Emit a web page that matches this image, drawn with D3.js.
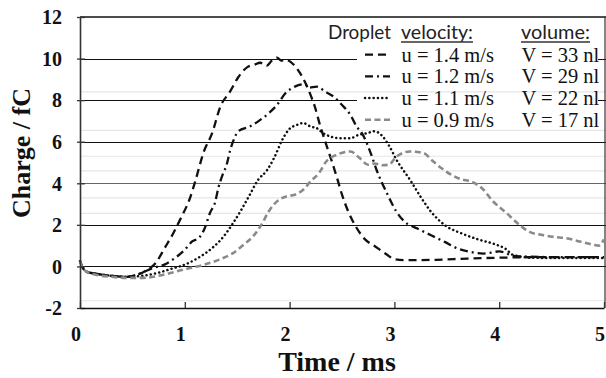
<!DOCTYPE html>
<html>
<head>
<meta charset="utf-8">
<script src="https://cdn.jsdelivr.net/npm/d3@7"></script>
<style>
  html, body { margin: 0; padding: 0; background: #fff; }
  svg { display: block; }
</style>
</head>
<body>
<svg id="chart" width="606" height="378"></svg>
<script>
// ---------- data ----------
const xTicks = [0, 1, 2, 3, 4, 5];
const yTicks = [-2, 0, 2, 4, 6, 8, 10, 12];
const majorGrid = [0, 2, 4, 6, 8, 10];
const minorGrid = [8.4, 6.55, 5.3, 4.6, 3.3, 2.55, -1.65];

const s1Time = [0, 0.02, 0.06, 0.15, 0.3, 0.45, 0.55, 0.63, 0.72, 0.81, 0.89, 0.96, 1.05, 1.1, 1.18, 1.26, 1.34, 1.43, 1.51, 1.6, 1.66, 1.72, 1.78, 1.83, 1.88, 1.92, 1.96, 2.04, 2.1, 2.2, 2.24, 2.29, 2.34, 2.4, 2.45, 2.5, 2.56, 2.64, 2.72, 2.82, 2.92, 3.0, 3.1, 3.4, 3.7, 4.0, 4.5, 5.0];
const s1Charge = [0.25, 0.0, -0.25, -0.35, -0.45, -0.5, -0.4, -0.2, 0.15, 0.9, 1.6, 2.3, 3.3, 4.1, 5.5, 6.4, 7.7, 8.4, 9.1, 9.6, 9.7, 9.8, 9.65, 9.9, 10.05, 9.9, 9.95, 9.7, 9.3, 8.25, 7.7, 6.8, 6.0, 5.1, 4.3, 3.45, 2.64, 1.85, 1.3, 0.95, 0.6, 0.35, 0.3, 0.32, 0.38, 0.42, 0.45, 0.45];

const s2Time = [0, 0.02, 0.06, 0.15, 0.3, 0.45, 0.59, 0.7, 0.81, 0.91, 1.0, 1.07, 1.14, 1.19, 1.24, 1.29, 1.32, 1.36, 1.40, 1.43, 1.46, 1.51, 1.62, 1.72, 1.8, 1.88, 1.96, 2.05, 2.15, 2.18, 2.26, 2.34, 2.42, 2.5, 2.58, 2.64, 2.69, 2.78, 2.83, 2.93, 3.02, 3.1, 3.22, 3.35, 3.48, 3.61, 3.72, 3.85, 4.0, 4.15, 4.5, 5.0];
const s2Charge = [0.25, 0.0, -0.25, -0.35, -0.45, -0.5, -0.3, -0.07, 0.1, 0.42, 0.8, 1.2, 1.4, 1.84, 2.57, 3.1, 3.77, 4.4, 4.9, 5.53, 6.0, 6.5, 6.73, 7.05, 7.37, 7.77, 8.33, 8.65, 8.77, 8.6, 8.65, 8.41, 8.17, 7.77, 7.29, 6.73, 6.41, 5.37, 4.64, 3.51, 2.63, 2.14, 1.82, 1.5, 1.18, 0.85, 0.7, 0.62, 0.72, 0.5, 0.45, 0.45];

const s3Time = [0, 0.02, 0.06, 0.15, 0.3, 0.45, 0.6, 0.75, 0.88, 0.98, 1.05, 1.15, 1.26, 1.37, 1.46, 1.54, 1.62, 1.7, 1.78, 1.85, 1.93, 1.99, 2.07, 2.13, 2.2, 2.26, 2.32, 2.39, 2.48, 2.58, 2.66, 2.74, 2.81, 2.88, 2.95, 3.02, 3.15, 3.25, 3.35, 3.48, 3.64, 3.8, 3.97, 4.06, 4.13, 4.3, 4.6, 5.0];
const s3Charge = [0.25, 0.0, -0.25, -0.35, -0.45, -0.5, -0.45, -0.3, -0.1, 0.05, 0.2, 0.48, 0.88, 1.44, 2.08, 2.73, 3.45, 4.17, 4.6, 5.2, 6.09, 6.57, 6.81, 6.9, 6.73, 6.65, 6.41, 6.25, 6.17, 6.17, 6.33, 6.41, 6.5, 6.3, 5.8, 5.13, 4.16, 3.35, 2.63, 1.99, 1.59, 1.3, 1.05, 0.85, 0.56, 0.42, 0.4, 0.4];

const s4Time = [0, 0.02, 0.06, 0.15, 0.3, 0.45, 0.6, 0.75, 0.86, 0.95, 1.05, 1.18, 1.34, 1.46, 1.56, 1.65, 1.73, 1.8, 1.88, 1.97, 2.05, 2.13, 2.2, 2.28, 2.35, 2.45, 2.58, 2.67, 2.75, 2.81, 2.89, 2.95, 3.02, 3.15, 3.28, 3.36, 3.45, 3.61, 3.77, 3.85, 3.93, 4.07, 4.17, 4.29, 4.4, 4.52, 4.64, 4.77, 4.9, 4.95, 5.0];
const s4Charge = [0.25, 0.0, -0.25, -0.4, -0.5, -0.55, -0.55, -0.45, -0.32, -0.2, -0.08, 0.08, 0.35, 0.64, 1.04, 1.44, 2.0, 2.64, 3.13, 3.37, 3.45, 3.69, 4.09, 4.49, 5.05, 5.37, 5.53, 5.21, 4.89, 4.95, 4.87, 4.9, 5.29, 5.53, 5.45, 5.1, 4.72, 4.24, 4.0, 3.69, 3.19, 2.57, 2.1, 1.66, 1.52, 1.42, 1.36, 1.2, 1.04, 1.0, 1.3];

const velocityLabels = ["u = 1.4 m/s", "u = 1.2 m/s", "u = 1.1 m/s", "u = 0.9 m/s"];
const volumeLabels = ["V = 33 nl", "V = 29 nl", "V = 22 nl", "V = 17 nl"];
const headerLabels = ["Droplet", "velocity:", "volume:"];

// ---------- styles ----------
const seriesStyles = [
  { color: "#111", width: 2.3, dash: "8,5", cap: "butt" },
  { color: "#111", width: 2.3, dash: "8,4,2,4", cap: "butt" },
  { color: "#111", width: 2.5, dash: "0.1,4.2", cap: "round" },
  { color: "#8a8a8a", width: 2.6, dash: "6,3.5", cap: "butt" }
];

const series = [
  { t: s1Time, v: s1Charge },
  { t: s2Time, v: s2Charge },
  { t: s3Time, v: s3Charge },
  { t: s4Time, v: s4Charge }
];

// ---------- layout ----------
const svg = d3.select("#chart");
const pLeft = 80, pRight = 604, pTop = 17, pBottom = 308;
const x = d3.scaleLinear().domain([0, 5]).range([pLeft, pRight]);
const y = d3.scaleLinear().domain([-2, 12]).range([pBottom, pTop]);
const serif = "'Liberation Serif', 'Times New Roman', serif";

// minor grid
svg.append("g").selectAll("line").data(minorGrid).join("line")
  .attr("x1", pLeft).attr("x2", 606)
  .attr("y1", d => y(d)).attr("y2", d => y(d))
  .attr("stroke", "#e6e6e6").attr("stroke-width", 1.2);

// major grid
svg.append("g").selectAll("line").data(majorGrid).join("line")
  .attr("x1", pLeft).attr("x2", 606)
  .attr("y1", d => Math.round(y(d)) + 0.5).attr("y2", d => Math.round(y(d)) + 0.5)
  .attr("stroke", d => d === 4 ? "#666" : "#111").attr("stroke-width", 1.2);

// frame: top & right
svg.append("line").attr("x1", pLeft).attr("x2", 606).attr("y1", pTop).attr("y2", pTop)
  .attr("stroke", "#111").attr("stroke-width", 1.5);
svg.append("line").attr("x1", 605).attr("x2", 605).attr("y1", pTop).attr("y2", pBottom)
  .attr("stroke", "#333").attr("stroke-width", 1.2);

// series
const line = d3.line().x(d => x(d[0])).y(d => y(d[1])).curve(d3.curveMonotoneX);
series.forEach((s, i) => {
  const pts = s.t.map((t, k) => [t, s.v[k]]);
  const st = seriesStyles[i];
  svg.append("path").datum(pts)
    .attr("d", line)
    .attr("fill", "none")
    .attr("stroke", st.color)
    .attr("stroke-width", st.width)
    .attr("stroke-dasharray", st.dash)
    .attr("stroke-linecap", st.cap);
});

// legend box
svg.append("rect").attr("x", 357).attr("y", 19).attr("width", 241).attr("height", 105)
  .attr("fill", "#fff");
// light grid line crossing the legend
svg.append("line").attr("x1", 357).attr("x2", 598)
  .attr("y1", y(minorGrid[0])).attr("y2", y(minorGrid[0]))
  .attr("stroke", "#e6e6e6").attr("stroke-width", 1.2);

const headerX = [328, 401, 521];
const headerW = [63, 72, 69];
const hdr = svg.append("g");
headerLabels.forEach((h, i) => {
  hdr.append("text").attr("x", headerX[i]).attr("y", 38.5)
    .attr("font-family", "Lato, 'Open Sans', sans-serif")
    .attr("font-size", 20).attr("fill", "#222")
    .attr("textLength", headerW[i]).attr("lengthAdjust", "spacingAndGlyphs")
    .text(h);
  if (i > 0) {
    hdr.append("line").attr("x1", headerX[i]).attr("x2", headerX[i] + headerW[i])
      .attr("y1", 42).attr("y2", 42).attr("stroke", "#333").attr("stroke-width", 1.3);
  }
});

const rowY = [61.7, 83.3, 105, 126.7];
const lg = svg.append("g");
velocityLabels.forEach((lab, i) => {
  const st = seriesStyles[i];
  lg.append("line").attr("x1", 365).attr("x2", 390)
    .attr("y1", rowY[i] - 7).attr("y2", rowY[i] - 7)
    .attr("stroke", st.color).attr("stroke-width", st.width)
    .attr("stroke-dasharray", st.dash).attr("stroke-linecap", st.cap);
  lg.append("text").attr("x", 401.5).attr("y", rowY[i])
    .attr("font-family", serif).attr("font-size", 20.5).attr("fill", "#111")
    .text(lab);
  lg.append("text").attr("x", 521.5).attr("y", rowY[i])
    .attr("font-family", serif).attr("font-size", 20.5).attr("fill", "#111")
    .text(volumeLabels[i]);
});

// axes
const yAxis = d3.axisLeft(y).tickValues(yTicks).tickFormat(d3.format("d"))
  .tickSizeInner(3).tickSizeOuter(0).tickPadding(15);
const gy = svg.append("g").attr("transform", `translate(${pLeft},0)`).call(yAxis);
gy.attr("font-family", serif);
gy.select(".domain").attr("stroke", "#333").attr("stroke-width", 1.6);
gy.selectAll(".tick line").attr("x2", 5).attr("x1", -3).attr("stroke", "#333").attr("stroke-width", 1.3);
gy.selectAll(".tick text").attr("font-family", serif).attr("font-weight", "bold")
  .attr("font-size", 20).attr("fill", "#111").attr("dy", "0.34em")
  .text(d => d < 0 ? "-" + Math.abs(d) : d);

const xAxis = d3.axisBottom(x).tickValues(xTicks).tickFormat(d3.format("d"))
  .tickSizeInner(-6).tickSizeOuter(0).tickPadding(19);
const gx = svg.append("g").attr("transform", `translate(0,${pBottom})`).call(xAxis);
gx.attr("font-family", serif);
gx.select(".domain").attr("stroke", "#111").attr("stroke-width", 1.6);
gx.selectAll(".tick line").attr("stroke", "#333").attr("stroke-width", 1.3);
gx.selectAll(".tick text").attr("font-family", serif).attr("font-weight", "bold")
  .attr("font-size", 20).attr("fill", "#111").attr("dx", -4.5);

// axis titles
svg.append("text").attr("x", 337).attr("y", 371).attr("text-anchor", "middle")
  .attr("font-family", serif).attr("font-weight", "bold").attr("font-size", 28)
  .attr("fill", "#111").text("Time / ms");
svg.append("text").attr("transform", "translate(30,153) rotate(-90)")
  .attr("text-anchor", "middle")
  .attr("font-family", serif).attr("font-weight", "bold").attr("font-size", 26)
  .attr("fill", "#111").text("Charge / fC");
</script>
</body>
</html>
